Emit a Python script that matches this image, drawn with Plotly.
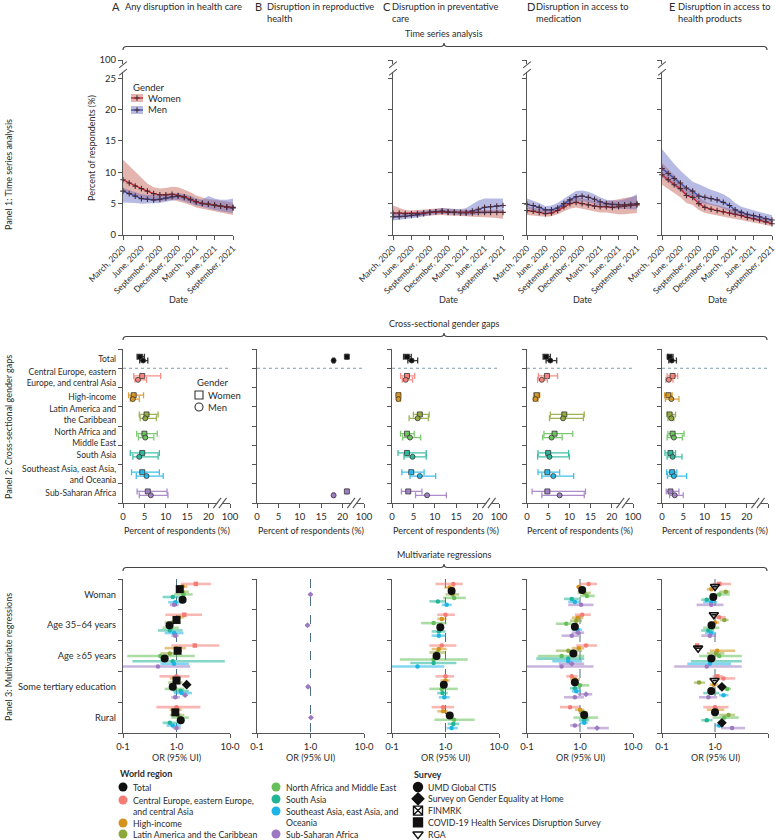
import plotly.graph_objects as go

W, H = 775, 840
FONT = "Lato"
TXT = "#2b2b2b"
AX = "#555555"

# ---------------- DATA ----------------
months = ["2020-03-01", "2020-04-01", "2020-05-01", "2020-06-01", "2020-07-01", "2020-08-01",
          "2020-09-01", "2020-10-01", "2020-11-01", "2020-12-01", "2021-01-01", "2021-02-01",
          "2021-03-01", "2021-04-01", "2021-05-01", "2021-06-01", "2021-07-01", "2021-08-01",
          "2021-09-01"]

ts_A_women = [8.8, 8.3, 7.8, 7.4, 7.0, 6.6, 6.4, 6.4, 6.5, 6.3, 6.1, 5.7, 5.3, 5.05, 4.95, 4.7, 4.6, 4.5, 4.4]
ts_A_women_lo = [6.8, 6.5, 6.2, 6.0, 5.7, 5.4, 5.4, 5.5, 5.6, 5.4, 5.1, 4.8, 4.4, 4.2, 4.0, 3.8, 3.6, 3.4, 3.2]
ts_A_women_hi = [12.0, 11.0, 10.0, 9.0, 8.2, 7.6, 7.4, 7.5, 7.7, 7.6, 7.2, 6.8, 6.3, 6.0, 5.7, 5.6, 5.5, 5.3, 5.2]
ts_A_men = [7.0, 6.6, 6.2, 5.8, 5.7, 5.6, 5.7, 5.9, 6.1, 6.2, 6.0, 5.6, 5.3, 5.0, 4.9, 4.8, 4.6, 4.4, 4.3]
ts_A_men_lo = [5.2, 5.2, 5.1, 5.0, 5.0, 5.0, 5.1, 5.3, 5.5, 5.6, 5.4, 5.0, 4.7, 4.5, 4.2, 4.0, 3.8, 3.6, 3.5]
ts_A_men_hi = [7.5, 7.2, 6.8, 6.5, 6.4, 6.3, 6.3, 6.5, 6.6, 6.7, 6.5, 6.2, 5.8, 5.6, 6.2, 5.8, 5.6, 5.6, 5.8]

ts_C_women = [3.5, 3.5, 3.4, 3.4, 3.4, 3.5, 3.6, 3.7, 3.7, 3.6, 3.6, 3.5, 3.5, 3.5, 3.6, 3.6, 3.6, 3.6, 3.6]
ts_C_women_lo = [2.7, 2.7, 2.8, 2.9, 2.9, 3.0, 3.1, 3.2, 3.2, 3.1, 3.1, 3.0, 3.0, 2.9, 2.9, 2.8, 2.8, 2.7, 2.6]
ts_C_women_hi = [4.7, 4.3, 4.0, 3.9, 4.0, 4.1, 4.2, 4.3, 4.3, 4.2, 4.1, 4.1, 4.0, 4.0, 4.0, 4.0, 4.0, 4.0, 4.0]
ts_C_men = [2.9, 2.9, 3.0, 3.1, 3.2, 3.4, 3.6, 3.7, 3.8, 3.7, 3.6, 3.6, 3.6, 3.8, 4.1, 4.4, 4.5, 4.6, 4.7]
ts_C_men_lo = [2.3, 2.4, 2.5, 2.7, 2.8, 3.0, 3.2, 3.3, 3.4, 3.3, 3.2, 3.2, 3.1, 3.2, 3.3, 3.3, 3.4, 3.5, 3.5]
ts_C_men_hi = [3.5, 3.4, 3.5, 3.6, 3.8, 3.9, 4.0, 4.1, 4.3, 4.2, 4.1, 4.1, 4.3, 4.9, 5.5, 5.8, 5.8, 5.8, 5.8]

ts_D_women = [3.9, 3.8, 3.6, 3.4, 3.5, 3.9, 4.5, 5.0, 5.2, 5.0, 4.8, 4.6, 4.5, 4.5, 4.4, 4.5, 4.6, 4.7, 4.8]
ts_D_women_lo = [3.2, 3.1, 3.0, 2.9, 3.0, 3.3, 3.8, 4.2, 4.4, 4.2, 4.0, 3.8, 3.6, 3.6, 3.4, 3.3, 3.3, 3.4, 3.5]
ts_D_women_hi = [4.6, 4.4, 4.2, 4.0, 4.1, 4.6, 5.3, 5.8, 6.0, 5.8, 5.6, 5.4, 5.3, 5.4, 5.5, 5.7, 5.9, 6.1, 6.2]
ts_D_men = [4.9, 4.7, 4.4, 4.0, 4.0, 4.3, 5.0, 5.6, 6.1, 6.2, 6.0, 5.7, 5.3, 5.0, 4.9, 4.8, 4.8, 4.9, 5.0]
ts_D_men_lo = [4.2, 4.0, 3.8, 3.5, 3.5, 3.7, 4.3, 4.9, 5.3, 5.4, 5.2, 5.0, 4.6, 4.4, 4.2, 4.2, 4.1, 4.1, 4.1]
ts_D_men_hi = [5.8, 5.5, 5.1, 4.6, 4.7, 5.1, 5.8, 6.4, 7.0, 7.1, 6.9, 6.5, 6.0, 5.6, 5.5, 5.5, 5.7, 6.0, 6.5]

ts_E_women = [9.6, 8.8, 8.0, 7.4, 6.3, 6.0, 5.0, 4.4, 4.1, 3.9, 3.7, 3.5, 3.3, 3.1, 2.8, 2.6, 2.4, 2.1, 1.8]
ts_E_women_lo = [8.0, 7.3, 6.6, 6.0, 5.1, 4.8, 4.0, 3.5, 3.3, 3.1, 3.0, 2.8, 2.6, 2.4, 2.2, 2.0, 1.8, 1.6, 1.4]
ts_E_women_hi = [11.5, 10.5, 9.5, 8.6, 7.5, 7.2, 6.0, 5.4, 5.0, 4.8, 4.5, 4.3, 4.0, 3.7, 3.4, 3.2, 2.9, 2.6, 2.3]
ts_E_men = [10.6, 9.8, 9.0, 8.3, 7.5, 7.0, 6.2, 6.0, 5.8, 5.6, 5.2, 4.7, 4.0, 3.6, 3.3, 3.1, 2.9, 2.6, 2.4]
ts_E_men_lo = [9.2, 8.5, 7.8, 7.0, 6.3, 5.8, 5.2, 5.0, 4.8, 4.6, 4.2, 3.8, 3.2, 2.9, 2.6, 2.4, 2.2, 2.0, 1.8]
ts_E_men_hi = [13.7, 12.5, 11.3, 10.3, 9.4, 8.5, 8.1, 7.6, 7.2, 6.9, 6.5, 5.9, 5.1, 4.5, 4.2, 3.9, 3.6, 3.4, 3.2]

gap_regions = ["Total", "Central Europe, eastern<br>Europe, and central Asia", "High-income",
               "Latin America and<br>the Caribbean", "North Africa and<br>Middle East", "South Asia",
               "Southeast Asia, east Asia,<br>and Oceania", "Sub-Saharan Africa"]
gap_keys = ["T", "CE", "HI", "LA", "NA", "SA", "SEA", "SSA"]

gap_A_women = [4.0, 4.5, 2.5, 5.5, 5.0, 4.5, 4.5, 5.8]
gap_A_women_lo = [3.3, 2.5, 1.3, 3.8, 3.2, 1.7, 2.0, 3.3]
gap_A_women_hi = [5.0, 8.8, 4.8, 8.2, 8.0, 8.5, 8.5, 10.3]
gap_A_men = [4.7, 3.5, 2.3, 5.2, 5.2, 3.8, 5.5, 6.5]
gap_A_men_lo = [3.9, 2.8, 1.7, 4.0, 3.6, 2.3, 3.1, 3.8]
gap_A_men_hi = [5.8, 5.5, 3.8, 7.8, 7.2, 8.2, 9.4, 10.5]

gap_B_women = [21.0, None, None, None, None, None, None, 21.0]
gap_B_women_lo = [20.8, None, None, None, None, None, None, 20.8]
gap_B_women_hi = [21.2, None, None, None, None, None, None, 21.2]
gap_B_men = [17.9, None, None, None, None, None, None, 17.9]
gap_B_men_lo = [17.7, None, None, None, None, None, None, 17.7]
gap_B_men_hi = [18.1, None, None, None, None, None, None, 18.1]

gap_C_women = [3.5, 3.5, 1.5, 6.5, 3.5, 3.5, 4.5, 3.8]
gap_C_women_lo = [2.7, 2.0, 1.1, 5.0, 2.0, 1.4, 2.3, 2.2]
gap_C_women_hi = [4.5, 5.3, 1.9, 8.7, 5.2, 8.0, 7.5, 7.0]
gap_C_men = [4.6, 3.2, 1.5, 6.0, 4.2, 4.8, 6.5, 8.2]
gap_C_men_lo = [3.7, 2.4, 1.2, 4.0, 2.5, 2.8, 4.2, 5.5]
gap_C_men_hi = [6.0, 4.8, 2.0, 8.5, 6.7, 8.0, 10.2, 12.7]

gap_D_women = [4.5, 4.7, 2.3, 8.8, 6.5, 5.0, 4.8, 4.8]
gap_D_women_lo = [3.8, 2.7, 1.6, 5.5, 4.0, 2.6, 2.6, 1.2]
gap_D_women_hi = [5.5, 7.2, 3.0, 13.5, 10.8, 9.8, 7.7, 13.8]
gap_D_men = [5.5, 3.5, 2.0, 8.5, 5.8, 5.3, 6.2, 7.7]
gap_D_men_lo = [4.5, 2.5, 1.5, 5.3, 3.7, 2.5, 3.5, 3.5]
gap_D_men_hi = [7.0, 4.8, 2.6, 13.3, 8.3, 10.0, 11.0, 13.5]

gap_E_women = [1.8, 2.5, 1.5, 1.8, 2.5, 2.0, 2.4, 2.0]
gap_E_women_lo = [1.3, 1.2, 0.6, 1.2, 1.4, 0.7, 1.1, 1.0]
gap_E_women_hi = [2.6, 3.7, 2.4, 3.2, 5.2, 3.2, 3.5, 4.0]
gap_E_men = [2.3, 1.6, 2.2, 2.2, 2.8, 2.5, 2.8, 3.0]
gap_E_men_lo = [1.6, 0.9, 0.8, 1.4, 1.2, 1.2, 1.3, 1.8]
gap_E_men_hi = [3.4, 2.6, 4.0, 2.8, 4.8, 4.7, 5.8, 5.0]

predictors = ["Woman", "Age 35–64 years", "Age ≥65 years", "Some tertiary education", "Rural"]

# (predictor index, region, survey, OR, lower, upper)
reg_A = [
    (0, "CE", "HSD", 2.3, 1.2, 4.4), (0, "HI", "UMD", 1.3, 1.05, 1.6), (0, "T", "HSD", 1.15, 1.05, 1.25),
    (0, "LA", "UMD", 1.3, 1.0, 1.7), (0, "NA", "UMD", 1.35, 0.9, 2.0), (0, "SA", "UMD", 0.85, 0.55, 1.3),
    (0, "T", "UMD", 1.3, 1.2, 1.4), (0, "SEA", "UMD", 0.95, 0.7, 1.35), (0, "SSA", "UMD", 0.9, 0.75, 1.1),
    (1, "CE", "HSD", 1.4, 0.62, 3.0), (1, "HI", "UMD", 1.1, 0.85, 1.4), (1, "T", "HSD", 1.0, 0.92, 1.08),
    (1, "LA", "UMD", 0.85, 0.6, 1.2), (1, "T", "UMD", 0.74, 0.68, 0.8), (1, "NA", "UMD", 0.8, 0.55, 1.1),
    (1, "SA", "UMD", 0.75, 0.45, 1.3), (1, "SEA", "UMD", 0.9, 0.6, 1.35), (1, "SSA", "UMD", 0.95, 0.8, 1.1),
    (2, "CE", "HSD", 2.2, 0.8, 6.3), (2, "HI", "UMD", 1.0, 0.6, 1.5), (2, "T", "HSD", 1.05, 0.9, 1.25),
    (2, "LA", "UMD", 0.75, 0.5, 1.1), (2, "NA", "UMD", 0.5, 0.12, 2.2), (2, "T", "UMD", 0.6, 0.52, 0.7),
    (2, "SA", "UMD", 0.85, 0.15, 8.0), (2, "SEA", "UMD", 0.9, 0.5, 1.7), (2, "SSA", "UMD", 0.45, 0.1, 1.8),
    (3, "CE", "UMD", 1.0, 0.48, 1.75), (3, "HI", "UMD", 0.95, 0.75, 1.2), (3, "T", "HSD", 1.0, 0.92, 1.08),
    (3, "LA", "UMD", 0.95, 0.7, 1.3), (3, "T", "SGE", 1.55, 1.4, 1.7), (3, "T", "UMD", 0.85, 0.78, 0.92),
    (3, "NA", "UMD", 0.9, 0.6, 1.4), (3, "SA", "UMD", 1.2, 0.85, 1.7), (3, "SEA", "UMD", 1.25, 0.9, 1.95),
    (3, "SSA", "SGE", 1.45, 1.3, 1.6), (3, "SSA", "UMD", 0.95, 0.8, 1.15),
    (4, "CE", "UMD", 1.0, 0.42, 2.8), (4, "HI", "UMD", 0.95, 0.75, 1.25), (4, "T", "HSD", 0.95, 0.88, 1.03),
    (4, "LA", "UMD", 1.05, 0.75, 1.4), (4, "NA", "UMD", 1.15, 0.8, 1.7), (4, "T", "UMD", 1.2, 1.12, 1.3),
    (4, "SA", "UMD", 0.75, 0.55, 1.05), (4, "SEA", "UMD", 0.85, 0.65, 1.2), (4, "SSA", "UMD", 1.0, 0.85, 1.2),
]
reg_B = [
    (0, "SSA", "SGE", 1.0, 0.92, 1.08), (1, "SSA", "SGE", 0.88, 0.8, 0.96),
    (3, "SSA", "SGE", 0.9, 0.82, 0.98), (4, "SSA", "SGE", 1.02, 0.94, 1.1),
]
reg_C = [
    (0, "CE", "UMD", 1.4, 0.65, 2.1), (0, "HI", "UMD", 1.2, 0.95, 1.5), (0, "T", "UMD", 1.3, 1.2, 1.4),
    (0, "LA", "UMD", 1.35, 1.0, 1.8), (0, "NA", "UMD", 1.45, 0.9, 2.4), (0, "SA", "UMD", 0.72, 0.5, 1.0),
    (0, "SEA", "UMD", 1.05, 0.85, 1.3),
    (1, "CE", "UMD", 1.0, 0.7, 1.5), (1, "HI", "UMD", 0.85, 0.7, 1.05), (1, "NA", "UMD", 0.6, 0.35, 1.05),
    (1, "T", "UMD", 0.8, 0.75, 0.86), (1, "SA", "UMD", 0.75, 0.55, 1.0), (1, "SEA", "UMD", 0.75, 0.55, 1.0),
    (2, "CE", "UMD", 0.85, 0.5, 1.6), (2, "HI", "UMD", 0.75, 0.55, 1.05), (2, "LA", "UMD", 0.7, 0.5, 1.0),
    (2, "T", "UMD", 0.68, 0.6, 0.78), (2, "NA", "UMD", 0.6, 0.14, 2.6), (2, "SA", "UMD", 0.6, 0.22, 1.6),
    (2, "SEA", "UMD", 0.3, 0.1, 0.95),
    (3, "CE", "UMD", 1.0, 0.65, 1.45), (3, "HI", "UMD", 1.0, 0.8, 1.2), (3, "T", "UMD", 0.93, 0.86, 1.0),
    (3, "NA", "UMD", 0.85, 0.5, 1.7), (3, "SA", "UMD", 0.88, 0.7, 1.1), (3, "SEA", "UMD", 0.95, 0.75, 1.2),
    (4, "CE", "UMD", 0.9, 0.55, 1.45), (4, "HI", "UMD", 0.9, 0.7, 1.1), (4, "T", "UMD", 1.2, 1.12, 1.3),
    (4, "NA", "UMD", 1.45, 0.62, 3.5), (4, "SA", "UMD", 1.4, 1.1, 1.8), (4, "SEA", "UMD", 1.3, 1.05, 1.7),
]
reg_D = [
    (0, "CE", "UMD", 1.45, 1.0, 2.1), (0, "HI", "UMD", 0.95, 0.85, 1.1), (0, "T", "UMD", 1.1, 1.0, 1.2),
    (0, "LA", "UMD", 1.2, 0.9, 1.6), (0, "NA", "UMD", 1.35, 1.0, 1.9), (0, "SA", "UMD", 0.7, 0.5, 0.95),
    (0, "SEA", "UMD", 0.8, 0.6, 1.0), (0, "SSA", "UMD", 1.05, 0.6, 1.8),
    (1, "CE", "UMD", 1.1, 0.8, 1.6), (1, "HI", "UMD", 0.9, 0.7, 1.15), (1, "LA", "UMD", 0.85, 0.65, 1.1),
    (1, "NA", "UMD", 0.55, 0.35, 0.85), (1, "T", "UMD", 0.8, 0.75, 0.86), (1, "SEA", "UMD", 0.9, 0.7, 1.1),
    (1, "SSA", "SGE", 0.92, 0.7, 1.2), (1, "SSA", "UMD", 0.7, 0.45, 0.95),
    (2, "CE", "UMD", 1.3, 0.85, 2.1), (2, "HI", "UMD", 0.95, 0.7, 1.2), (2, "LA", "UMD", 0.6, 0.35, 1.1),
    (2, "T", "UMD", 0.75, 0.65, 0.85), (2, "NA", "UMD", 0.45, 0.16, 1.2), (2, "SA", "UMD", 0.6, 0.15, 1.2),
    (2, "SEA", "UMD", 0.6, 0.3, 1.1), (2, "SSA", "SGE", 0.7, 0.4, 1.2), (2, "SSA", "UMD", 0.45, 0.1, 1.8),
    (3, "CE", "UMD", 0.7, 0.55, 0.9), (3, "HI", "UMD", 0.8, 0.65, 1.0), (3, "T", "UMD", 0.8, 0.73, 0.88),
    (3, "NA", "UMD", 1.0, 0.8, 1.5), (3, "SA", "UMD", 0.8, 0.65, 1.0), (3, "SEA", "UMD", 0.85, 0.7, 1.05),
    (3, "SSA", "SGE", 1.3, 0.9, 1.7), (3, "SSA", "UMD", 0.8, 0.5, 1.2),
    (4, "CE", "UMD", 0.65, 0.42, 1.0), (4, "HI", "UMD", 1.0, 0.8, 1.2), (4, "LA", "UMD", 1.15, 0.95, 1.4),
    (4, "T", "UMD", 1.2, 1.12, 1.28), (4, "NA", "UMD", 1.3, 0.75, 2.2), (4, "SA", "UMD", 1.2, 0.95, 1.5),
    (4, "SEA", "UMD", 1.2, 1.0, 1.4), (4, "SSA", "UMD", 0.8, 0.65, 1.0), (4, "SSA", "SGE", 2.1, 1.35, 3.5),
]
reg_E = [
    (0, "CE", "HSD", 1.2, 0.9, 2.0), (0, "T", "RGA", 1.0, 0.9, 1.1), (0, "HI", "UMD", 0.85, 0.7, 1.05),
    (0, "LA", "UMD", 1.6, 1.2, 1.9), (0, "NA", "UMD", 1.2, 0.8, 1.9), (0, "T", "UMD", 0.93, 0.85, 1.0),
    (0, "SA", "UMD", 0.7, 0.55, 0.9), (0, "SEA", "UMD", 0.85, 0.6, 1.1), (0, "SSA", "UMD", 0.85, 0.45, 1.45),
    (1, "T", "RGA", 0.95, 0.85, 1.05), (1, "CE", "UMD", 1.2, 0.9, 1.6), (1, "LA", "UMD", 1.5, 1.25, 1.8),
    (1, "HI", "UMD", 1.0, 0.8, 1.2), (1, "T", "UMD", 0.86, 0.8, 0.93), (1, "NA", "UMD", 0.9, 0.6, 1.2),
    (1, "SA", "UMD", 0.75, 0.55, 0.95), (1, "SEA", "UMD", 0.85, 0.65, 1.05), (1, "SSA", "UMD", 0.8, 0.55, 1.05),
    (2, "CE", "HSD", 0.46, 0.42, 0.5), (2, "T", "RGA", 0.48, 0.42, 0.55), (2, "HI", "UMD", 1.1, 0.8, 2.4),
    (2, "LA", "UMD", 1.05, 0.7, 1.5), (2, "NA", "UMD", 1.2, 0.5, 3.2), (2, "T", "UMD", 0.85, 0.75, 0.95),
    (2, "SA", "UMD", 0.8, 0.35, 3.2), (2, "SEA", "UMD", 0.8, 0.3, 2.0), (2, "SSA", "UMD", 0.7, 0.17, 3.2),
    (3, "CE", "HSD", 1.1, 0.9, 1.4), (3, "CE", "UMD", 1.45, 1.1, 2.4), (3, "T", "RGA", 0.98, 0.9, 1.08),
    (3, "LA", "UMD", 0.5, 0.4, 0.65), (3, "HI", "UMD", 0.95, 0.8, 1.15), (3, "T", "SGE", 1.35, 1.25, 1.45),
    (3, "NA", "UMD", 1.7, 1.2, 2.0), (3, "T", "UMD", 0.85, 0.78, 0.92), (3, "SA", "UMD", 0.85, 0.6, 1.2),
    (3, "SEA", "UMD", 1.45, 1.2, 1.8), (3, "SSA", "UMD", 0.75, 0.5, 1.1),
    (4, "CE", "UMD", 1.0, 0.6, 1.8), (4, "HI", "UMD", 1.05, 0.7, 1.5), (4, "T", "UMD", 1.0, 0.93, 1.08),
    (4, "LA", "UMD", 1.8, 1.2, 2.4), (4, "NA", "UMD", 1.5, 0.9, 2.8), (4, "SA", "UMD", 0.7, 0.55, 0.9),
    (4, "T", "SGE", 1.35, 1.2, 1.5), (4, "SEA", "UMD", 1.2, 1.0, 1.45), (4, "SSA", "UMD", 2.1, 1.3, 3.7),
]

survey_names = {"UMD": "UMD Global CTIS", "SGE": "Survey on Gender Equality at Home", "FIN": "FINMRK",
                "HSD": "COVID-19 Health Services Disruption Survey", "RGA": "RGA"}

col_titles = {"A": ["Any disruption in health care"],
              "B": ["Disruption in reproductive", "health"],
              "C": ["Disruption in preventative", "care"],
              "D": ["Disruption in access to", "medication"],
              "E": ["Disruption in access to", "health products"]}

# ---------------- STYLE ----------------
reg_color = {"T": "#111111", "CE": "#F47C74", "HI": "#D4921E", "LA": "#8DA83A", "NA": "#66BF5A",
             "SA": "#21B597", "SEA": "#1DB5E5", "SSA": "#9D79C2"}
surv_symbol = {"UMD": "circle", "SGE": "diamond", "FIN": "square-x-open", "HSD": "square",
               "RGA": "triangle-down-open"}
WOMEN_LINE, MEN_LINE = "#C8232C", "#3A4FA8"
WOMEN_FILL, MEN_FILL = "rgba(196,88,78,0.45)", "rgba(96,104,196,0.45)"
PT_MARK = "#4a2a36"
FS = 9.5     # axis numbers
FS_T = 9     # titles / labels
FS_L = 8.7   # legends
# small vertical nudges of the two stacked two-line region labels so they do not collide
label_nudge = [0, 0, 0, -0.1, 0.1, 0, 0, 0]


def rgba(hexc, a):
    h = hexc.lstrip("#")
    return "rgba(%d,%d,%d,%.2f)" % (int(h[0:2], 16), int(h[2:4], 16), int(h[4:6], 16), a)


P1_COLS = {"A": (123, 233), "C": (393, 503), "D": (527, 637), "E": (662, 772)}
P23_COLS = {"A": (123, 230), "B": (257, 364), "C": (392, 499), "D": (527, 633), "E": (662, 768)}
P1_Y, P2_Y, P3_Y = (235, 60), (503, 349), (733, 579)

axstyle = dict(showline=True, linecolor=AX, linewidth=1.3, ticks="outside", ticklen=4, tickwidth=1.1,
               tickcolor=AX, showgrid=False, zeroline=False, automargin=False,
               tickfont=dict(size=FS, color=TXT, family=FONT))

fig = go.Figure()
layout = {}
shapes = []
annotations = []
ax_n = [0]


def px(x):
    return x / W


def py(y):
    return 1 - y / H


def new_axes(xd, yd, xcfg, ycfg):
    ax_n[0] += 1
    n = ax_n[0]
    s = "" if n == 1 else str(n)
    layout["xaxis" + s] = dict(domain=[px(xd[0]), px(xd[1])], anchor="y" + s, **{**axstyle, **xcfg})
    layout["yaxis" + s] = dict(domain=[py(yd[0]), py(yd[1])], anchor="x" + s, **{**axstyle, **ycfg})
    return "x" + s, "y" + s


def ann(text, x, y, size=FS_T, xanchor="left", yanchor="middle", angle=0, color=TXT, **kw):
    annotations.append(dict(text=text, x=px(x), y=py(y), xref="paper", yref="paper", showarrow=False,
                            xanchor=xanchor, yanchor=yanchor, textangle=angle,
                            font=dict(size=size, color=color, family=FONT), **kw))


# ---------------- PANEL 1: time series ----------------
ts = {"A": (ts_A_women, ts_A_women_lo, ts_A_women_hi, ts_A_men, ts_A_men_lo, ts_A_men_hi),
      "C": (ts_C_women, ts_C_women_lo, ts_C_women_hi, ts_C_men, ts_C_men_lo, ts_C_men_hi),
      "D": (ts_D_women, ts_D_women_lo, ts_D_women_hi, ts_D_men, ts_D_men_lo, ts_D_men_hi),
      "E": (ts_E_women, ts_E_women_lo, ts_E_women_hi, ts_E_men, ts_E_men_lo, ts_E_men_hi)}
Y1_TOP = 27.9
for c, xd in P1_COLS.items():
    xr, yr = new_axes(
        xd, P1_Y,
        dict(type="date", range=[months[0], months[-1]], tick0=months[0], dtick="M3", tickformat="%B, %Y",
             tickangle=-45, ticklabeloverflow="allow", tickfont=dict(size=8.5, color=TXT, family=FONT)),
        dict(range=[0, Y1_TOP], tickvals=[0, 5, 10, 15, 20, 25, Y1_TOP],
             ticktext=["0", "5", "10", "15", "20", "25", "100"], showticklabels=(c == "A")))
    wv, wl, wh, mv, ml, mh = ts[c]
    for lo, hi, fillc in ((wl, wh, WOMEN_FILL), (ml, mh, MEN_FILL)):
        fig.add_trace(go.Scatter(x=months, y=lo, mode="lines", line=dict(width=0), xaxis=xr, yaxis=yr,
                                 hoverinfo="skip", showlegend=False))
        fig.add_trace(go.Scatter(x=months, y=hi, mode="lines", line=dict(width=0), fill="tonexty",
                                 fillcolor=fillc, xaxis=xr, yaxis=yr, hoverinfo="skip", showlegend=False))
    for vals, lc in ((mv, MEN_LINE), (wv, WOMEN_LINE)):
        fig.add_trace(go.Scatter(x=months, y=vals, mode="lines+markers", xaxis=xr, yaxis=yr, cliponaxis=False,
                                 line=dict(color=lc, width=1.3),
                                 marker=dict(symbol="cross-thin-open", size=4, color=PT_MARK,
                                             line=dict(color=PT_MARK, width=1.1)),
                                 showlegend=False))
    shapes.append(dict(type="rect", xref=xr + " domain", yref=yr, x0=-0.03, x1=0.03, y0=26.0, y1=27.25,
                       fillcolor="white", line=dict(width=0), layer="above"))
    for yb in (25.95, 27.15):
        shapes.append(dict(type="line", xref=xr + " domain", yref=yr, x0=-0.035, x1=0.035,
                           y0=yb - 0.5, y1=yb + 0.5, line=dict(color=AX, width=1.1), layer="above"))
    ann("Date", (xd[0] + xd[1]) / 2, 299, xanchor="center")

ann("Percent of respondents (%)", 91, 148, xanchor="center", angle=-90)

# ---------------- PANEL 2: cross-sectional gaps ----------------
gaps = {"A": (gap_A_women, gap_A_women_lo, gap_A_women_hi, gap_A_men, gap_A_men_lo, gap_A_men_hi),
        "B": (gap_B_women, gap_B_women_lo, gap_B_women_hi, gap_B_men, gap_B_men_lo, gap_B_men_hi),
        "C": (gap_C_women, gap_C_women_lo, gap_C_women_hi, gap_C_men, gap_C_men_lo, gap_C_men_hi),
        "D": (gap_D_women, gap_D_women_lo, gap_D_women_hi, gap_D_men, gap_D_men_lo, gap_D_men_hi),
        "E": (gap_E_women, gap_E_women_lo, gap_E_women_hi, gap_E_men, gap_E_men_lo, gap_E_men_hi)}
nreg = len(gap_regions)
for c, xd in P23_COLS.items():
    xr, yr = new_axes(
        xd, P2_Y,
        dict(range=[0, 25], tickvals=[0, 5, 10, 15, 20, 25], ticktext=["0", "5", "10", "15", "20", "100"]),
        dict(range=[nreg - 0.5, -0.5], tickvals=[i + label_nudge[i] for i in range(nreg)], ticktext=gap_regions,
             ticks="", showticklabels=(c == "A"), ticklabelstandoff=4,
             tickfont=dict(size=8.5, color=TXT, family=FONT),
             minor=dict(tickmode="array", tickvals=[i - 0.5 for i in range(nreg + 1)], ticks="outside",
                        ticklen=4, tickwidth=1.1, tickcolor=AX)))
    fig.add_trace(go.Scatter(x=[0, 25], y=[0.5, 0.5], mode="lines", xaxis=xr, yaxis=yr, hoverinfo="skip",
                             line=dict(color="#7f9cad", width=1, dash="dot"), showlegend=False))
    wv, wl, wh, mv, ml, mh = gaps[c]
    for vals, los, his, sym, off in ((wv, wl, wh, "square", -0.1), (mv, ml, mh, "circle", 0.1)):
        for i, k in enumerate(gap_keys):
            if vals[i] is None:
                continue
            col = reg_color[k]
            fig.add_trace(go.Scatter(
                x=[vals[i]], y=[i + off], mode="markers", xaxis=xr, yaxis=yr, cliponaxis=False,
                marker=dict(symbol=sym, size=5, color=rgba(col, 0.9) if k != "T" else "#111111",
                            line=dict(color="#333333", width=0.8)),
                error_x=dict(type="data", symmetric=False, array=[his[i] - vals[i]],
                             arrayminus=[vals[i] - los[i]], color=rgba(col, 0.85), thickness=1.3, width=3),
                showlegend=False))
    shapes.append(dict(type="rect", xref=xr, yref=yr + " domain", x0=22.05, x1=23.15, y0=-0.025, y1=0.025,
                       fillcolor="white", line=dict(width=0), layer="above"))
    for xb in (22.0, 23.3):
        shapes.append(dict(type="line", xref=xr, yref=yr + " domain", x0=xb - 0.9, x1=xb + 0.9,
                           y0=-0.033, y1=0.033, line=dict(color=AX, width=1.1), layer="above"))
    ann("Percent of respondents (%)", (xd[0] + xd[1]) / 2, 530, xanchor="center")

# ---------------- PANEL 3: regressions ----------------
regs = {"A": reg_A, "B": reg_B, "C": reg_C, "D": reg_D, "E": reg_E}
npred = len(predictors)
for c, xd in P23_COLS.items():
    xr, yr = new_axes(
        xd, P3_Y,
        dict(type="log", range=[-1, 1], tickvals=[0.1, 1, 10], ticktext=["0·1", "1·0", "10·0"]),
        dict(range=[npred - 0.5, -0.5], tickvals=list(range(npred)), ticktext=predictors, ticks="",
             showticklabels=(c == "A"), ticklabelstandoff=4, tickfont=dict(size=9.3, color=TXT, family=FONT),
             minor=dict(tickmode="array", tickvals=[i - 0.5 for i in range(npred + 1)], ticks="outside",
                        ticklen=4, tickwidth=1.1, tickcolor=AX)))
    fig.add_trace(go.Scatter(x=[1, 1], y=[-0.5, npred - 0.5], mode="lines", xaxis=xr, yaxis=yr,
                             hoverinfo="skip", line=dict(color="#4f6f85", width=1, dash="dash"),
                             showlegend=False))
    rows = regs[c]
    groups = {}
    for p in range(npred):
        prow = [r for r in rows if r[0] == p]
        n = len(prow)
        for k, r in enumerate(prow):
            yv = p if n == 1 else p - 0.34 + k * 0.68 / (n - 1)
            g = groups.setdefault((r[1], r[2]), dict(x=[], y=[], ep=[], em=[]))
            g["x"].append(r[3])
            g["y"].append(yv)
            g["ep"].append(r[5] - r[3])
            g["em"].append(r[3] - r[4])
    for (rk, sk), g in sorted(groups.items(), key=lambda kv: kv[0][0] == "T"):
        col = reg_color[rk]
        sym = surv_symbol[sk]
        opened = sym.endswith("-open")
        if rk == "T":
            mk = dict(symbol=sym, size=8 if sk != "SGE" else 7.5, color="#111111",
                      line=dict(color="#111111", width=1.6 if opened else 0))
            ex = dict(type="data", symmetric=False, array=g["ep"], arrayminus=g["em"], color="#111111",
                      thickness=1.6, width=0)
        else:
            mk = dict(symbol=sym, size=4.5, color=col, line=dict(color=col, width=1 if opened else 0))
            ex = dict(type="data", symmetric=False, array=g["ep"], arrayminus=g["em"], color=rgba(col, 0.55),
                      thickness=2.6, width=0)
        fig.add_trace(go.Scatter(x=g["x"], y=g["y"], mode="markers", xaxis=xr, yaxis=yr, marker=mk,
                                 error_x=ex, showlegend=False))
    ann("OR (95% UI)", (xd[0] + xd[1]) / 2, 757, xanchor="center")

# ---------------- overlay axis for legend glyphs ----------------
ax_n[0] += 1
so = str(ax_n[0])
layout["xaxis" + so] = dict(domain=[0, 1], range=[0, W], visible=False, anchor="y" + so, fixedrange=True,
                            automargin=False)
layout["yaxis" + so] = dict(domain=[0, 1], range=[H, 0], visible=False, anchor="x" + so, fixedrange=True,
                            automargin=False)
XO, YO = "x" + so, "y" + so


def glyph(x, y, **marker):
    fig.add_trace(go.Scatter(x=[x], y=[y], mode="markers", xaxis=XO, yaxis=YO, marker=marker,
                             hoverinfo="skip", showlegend=False, cliponaxis=False))


# Panel 1 gender legend
ann("Gender", 131, 88, size=9.5)
for yy, lc, fc, label in ((98, WOMEN_LINE, WOMEN_FILL, "Women"), (110, MEN_LINE, MEN_FILL, "Men")):
    fig.add_trace(go.Scatter(x=[131, 143], y=[yy, yy], mode="lines", xaxis=XO, yaxis=YO,
                             line=dict(color=fc, width=8), hoverinfo="skip", showlegend=False))
    fig.add_trace(go.Scatter(x=[131, 143], y=[yy, yy], mode="lines", xaxis=XO, yaxis=YO,
                             line=dict(color=lc, width=1.3), hoverinfo="skip", showlegend=False))
    glyph(137, yy, symbol="cross-thin-open", size=4, color=PT_MARK, line=dict(color=PT_MARK, width=1.1))
    ann(label, 146, yy, size=9.5)

# Panel 2 gender legend
ann("Gender", 195, 383, size=9.5)
glyph(199, 395, symbol="square-open", size=8, color="#333333", line=dict(color="#333333", width=1.1))
ann("Women", 206, 395, size=9.5)
glyph(199, 407, symbol="circle-open", size=8, color="#333333", line=dict(color="#333333", width=1.1))
ann("Men", 206, 407, size=9.5)

# World region legend
ann("<b>World region</b>", 118, 773, size=9)
reg_legend = [("T", 123, 787, ["Total"]),
              ("CE", 123, 800, ["Central Europe, eastern Europe,", "and central Asia"]),
              ("HI", 123, 823, ["High-income"]),
              ("LA", 123, 834, ["Latin America and the Caribbean"]),
              ("NA", 276, 787, ["North Africa and Middle East"]),
              ("SA", 276, 799, ["South Asia"]),
              ("SEA", 276, 811, ["Southeast Asia, east Asia, and", "Oceania"]),
              ("SSA", 276, 834, ["Sub-Saharan Africa"])]
for k, gx, gy, lines in reg_legend:
    glyph(gx, gy, symbol="circle", size=9, color=reg_color[k])
    for li, t in enumerate(lines):
        ann(t, gx + 8, gy + li * 11.5, size=FS_L)

# Survey legend
ann("<b>Survey</b>", 412, 774, size=9)
for i, sk in enumerate(["UMD", "SGE", "FIN", "HSD", "RGA"]):
    gy = 787 + i * 11.8
    sym = surv_symbol[sk]
    glyph(418, gy, symbol=sym, size=9, color="#111111", line=dict(color="#111111", width=1.4))
    ann(survey_names[sk], 426, gy, size=FS_L)

# Column headers: (letter left edge, title left edge)
head_pos = {"A": (109.5, 123), "B": (252.5, 265), "C": (381, 390), "D": (524.5, 533.5), "E": (667, 676)}
for c, (lx, tx) in head_pos.items():
    ann(c, lx, 7, size=11)
    for li, t in enumerate(col_titles[c]):
        ann(t, tx, 7 + li * 11, size=9.3)


def brace(y, text, x0=123, x1=767, xm=444):
    d = 3.5
    path = ("M {a},{b} Q {a},{c} {e},{c} L {f},{c} Q {g},{c} {g},{h} Q {g},{c} {i},{c} L {j},{c} "
            "Q {k},{c} {k},{b}").format(a=px(x0), b=py(y + d), c=py(y), e=px(x0 + d), f=px(xm - d),
                                        g=px(xm), h=py(y - d), i=px(xm + d), j=px(x1 - d), k=px(x1))
    shapes.append(dict(type="path", path=path, xref="paper", yref="paper",
                       line=dict(color="#444444", width=1.2)))
    ann(text, xm, y - 13, size=9, xanchor="center")


brace(46.5, "Time series analysis")
brace(336.5, "Cross-sectional gender gaps")
brace(567.5, "Multivariate regressions")

ann("Panel 1: Time series analysis", 8, 175, xanchor="center", angle=-90)
ann("Panel 2: Cross-sectional gender gaps", 8, 427, xanchor="center", angle=-90)
ann("Panel 3: Multivariate regressions", 8, 657, xanchor="center", angle=-90)

fig.update_layout(width=W, height=H, margin=dict(l=0, r=0, t=0, b=0, autoexpand=False),
                  paper_bgcolor="white", plot_bgcolor="rgba(0,0,0,0)", showlegend=False,
                  font=dict(family=FONT, size=FS, color=TXT), shapes=shapes, annotations=annotations,
                  **layout)
fig.write_html("out.html", config={"displayModeBar": False},
               post_script="document.body.style.margin='0px';document.body.style.padding='0px';"
                           "document.body.style.overflow='hidden';")
